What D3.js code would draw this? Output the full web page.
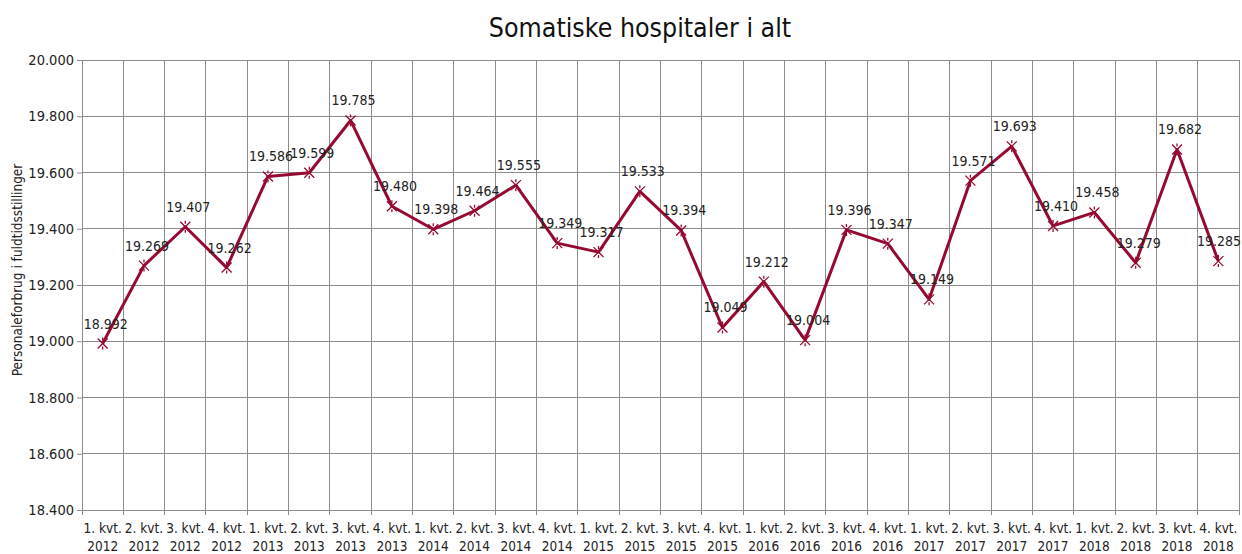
<!DOCTYPE html>
<html><head><meta charset="utf-8">
<script src="https://cdn.jsdelivr.net/npm/d3@7"></script>
<style>
body{margin:0;background:#fff;}
svg{display:block;font-family:"DejaVu Sans Condensed","DejaVu Sans",sans-serif;}
</style></head>
<body>
<svg id="chart" width="1242" height="554"></svg>
<script>
const quarters = ["1. kvt.","2. kvt.","3. kvt.","4. kvt."];
const years = ["2012","2013","2014","2015","2016","2017","2018"];
const categories = years.flatMap(y => quarters.map(q => [q, y]));
const values = [18992,19269,19407,19262, 19586,19599,19785,19480, 19398,19464,19555,19349,
  19317,19533,19394,19049, 19212,19004,19396,19347, 19149,19571,19693,19410, 19458,19279,19682,19285];
const yTicks = [18400,18600,18800,19000,19200,19400,19600,19800,20000];
const title = "Somatiske hospitaler i alt";
const yTitle = "Personaleforbrug i fuldtidsstillinger";

const svg = d3.select("#chart");
const L=82, R=1239, T=60, B=510;
const fmt = d3.formatLocale({decimal:",",thousands:".",grouping:[3],currency:["",""]}).format(",d");
const x = d3.scaleBand().domain(d3.range(categories.length)).range([L,R]);
const y = d3.scaleLinear().domain([18400,20000]).range([B,T]);
const grid = "#8c8c8c";
const fs = 14;

// horizontal grid
svg.append("g").selectAll("line").data(yTicks).join("line")
  .attr("x1",L).attr("x2",R).attr("y1",d=>y(d)).attr("y2",d=>y(d))
  .attr("stroke",grid).attr("stroke-width",1).attr("shape-rendering","crispEdges");
// vertical grid (category boundaries)
const bounds = d3.range(categories.length+1).map(i => i<categories.length ? x(i) : R);
svg.append("g").selectAll("line").data(bounds).join("line")
  .attr("x1",d=>d).attr("x2",d=>d).attr("y1",T).attr("y2",B+5)
  .attr("stroke",grid).attr("stroke-width",1).attr("shape-rendering","crispEdges");

// y axis
const yAxis = svg.append("g").attr("transform",`translate(${L},0)`)
  .call(d3.axisLeft(y).tickValues(yTicks).tickFormat(fmt).tickSize(5).tickPadding(3));
yAxis.select(".domain").attr("stroke",grid);
yAxis.selectAll(".tick line").attr("stroke",grid);
yAxis.selectAll("text").attr("font-size",14.5).attr("fill","#222").attr("font-family","DejaVu Sans Condensed");

// x labels
const xl = svg.append("g").selectAll("text").data(categories).join("text")
  .attr("x",(d,i)=>x(i)+x.bandwidth()/2).attr("text-anchor","middle")
  .attr("font-size",13.5).attr("fill","#222");
xl.append("tspan").attr("x",(d,i)=>x(i)+x.bandwidth()/2).attr("y",533).text(d=>d[0]);
xl.append("tspan").attr("x",(d,i)=>x(i)+x.bandwidth()/2).attr("y",551).text(d=>d[1]);

// line
const cx = i => x(i)+x.bandwidth()/2;
svg.append("path").datum(values)
  .attr("d", d3.line().x((d,i)=>cx(i)).y(d=>y(d)))
  .attr("fill","none").attr("stroke","#960a32").attr("stroke-width",3).attr("stroke-linejoin","round");

// markers (star: x plus vertical)
svg.append("g").selectAll("path").data(values).join("path")
  .attr("transform",(d,i)=>`translate(${cx(i)},${y(d)})`)
  .attr("d","M-5,-5L5,5M-5,5L5,-5M0,-6L0,-3M0,3L0,6")
  .attr("stroke","#960a32").attr("stroke-width",1.3).attr("fill","none");

// data labels
svg.append("g").selectAll("text").data(values).join("text")
  .attr("x",(d,i)=>Math.min(cx(i)+3, 1219)).attr("y",d=>y(d)-15)
  .attr("text-anchor","middle").attr("font-size",fs).attr("fill","#222")
  .text(d=>fmt(d));

// title
svg.append("text").attr("x",640).attr("y",37).attr("text-anchor","middle")
  .attr("font-size",26.5).attr("fill","#111").text(title);

// y title
svg.append("text").attr("transform","translate(22,270) rotate(-90)")
  .attr("text-anchor","middle").attr("font-size",13.5).attr("fill","#222").text(yTitle);
</script>
</body></html>
